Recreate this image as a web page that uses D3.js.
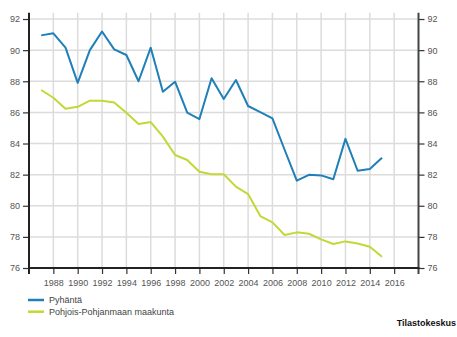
<!DOCTYPE html>
<html>
<head>
<meta charset="utf-8">
<script src="https://cdn.jsdelivr.net/npm/d3@7"></script>
<style>
  body { margin: 0; background: #fff; }
  svg text { font-family: "Liberation Sans", Arial, sans-serif; }
</style>
</head>
<body>
<div id="chart"></div>
<script>
// data
var years = [1987, 1988, 1989, 1990, 1991, 1992, 1993, 1994, 1995, 1996, 1997, 1998, 1999, 2000,
             2001, 2002, 2003, 2004, 2005, 2006, 2007, 2008, 2009, 2010, 2011, 2012, 2013, 2014, 2015]
var pyhanta = [90.95, 91.08, 90.16, 87.9, 90.0, 91.2, 90.05, 89.69, 88.0, 90.16, 87.33, 87.97, 85.98, 85.57,
               88.19, 86.86, 88.08, 86.41, 86.02, 85.62, 83.6, 81.61, 81.99, 81.95, 81.7, 84.3, 82.25, 82.36, 83.09]
var pohjois = [87.44, 86.94, 86.24, 86.36, 86.75, 86.75, 86.64, 85.98, 85.25, 85.38, 84.44, 83.26, 82.94, 82.19,
               82.02, 82.02, 81.23, 80.75, 79.34, 78.93, 78.12, 78.29, 78.2, 77.84, 77.54, 77.71, 77.58, 77.37, 76.72]
var seriesNames = ["Pyhäntä", "Pohjois-Pohjanmaan maakunta"]
var seriesColors = ["#1f7fb9", "#c3d836"]
var xTicks = d3.range(1988, 2017, 2)
var yTicks = [76, 78, 80, 82, 84, 86, 88, 90, 92]

var W = 457, H = 337
var mLeft = 29, mRight = 418.5, mTop = 12.8, mBottom = 268

var svg = d3.select("#chart").append("svg")
    .attr("width", W)
    .attr("height", H)

var x = d3.scaleLinear().domain([1986, 2018]).range([mLeft, mRight])
var y = d3.scaleLinear().domain([76, 92.4]).range([mBottom, mTop])

// grid
svg.append("g")
    .selectAll("line")
    .data(xTicks)
    .enter().append("line")
        .attr("x1", d => x(d)).attr("x2", d => x(d))
        .attr("y1", mTop).attr("y2", mBottom)
        .attr("stroke", "#dcdcdc")
        .attr("stroke-width", 1.5)

svg.append("g")
    .selectAll("line")
    .data(yTicks.slice(1))
    .enter().append("line")
        .attr("x1", mLeft).attr("x2", mRight)
        .attr("y1", d => y(d)).attr("y2", d => y(d))
        .attr("stroke", "#dcdcdc")
        .attr("stroke-width", 1.5)

// axes
function styleAxis(g){
    g.selectAll(".domain").remove()
    g.selectAll("line").attr("stroke", "#333").attr("stroke-width", 1.2)
    g.selectAll("text").attr("fill", "#555").style("font-size", "9px")
}

svg.append("g")
    .attr("transform", "translate(" + mLeft + ",0)")
    .call(d3.axisLeft(y).tickValues(yTicks).tickSize(6).tickPadding(3).tickFormat(d3.format("d")))
    .call(styleAxis)

svg.append("g")
    .attr("transform", "translate(" + mRight + ",0)")
    .call(d3.axisRight(y).tickValues(yTicks).tickSize(6).tickPadding(3).tickFormat(d3.format("d")))
    .call(styleAxis)

svg.append("g")
    .attr("transform", "translate(0," + mBottom + ")")
    .call(d3.axisBottom(x).tickValues(xTicks).tickSize(6).tickPadding(6).tickFormat(d3.format("d")))
    .call(styleAxis)

// axis lines
svg.append("line").attr("x1", mLeft).attr("x2", mLeft).attr("y1", mTop).attr("y2", mBottom + 6)
    .attr("stroke", "#222").attr("stroke-width", 2)
svg.append("line").attr("x1", mRight).attr("x2", mRight).attr("y1", mTop).attr("y2", mBottom + 6)
    .attr("stroke", "#444").attr("stroke-width", 2)
svg.append("line").attr("x1", mLeft - 1).attr("x2", mRight + 1).attr("y1", mBottom).attr("y2", mBottom)
    .attr("stroke", "#222").attr("stroke-width", 2)

// series (green first so blue sits on top)
var line = d3.line()
    .x((d, i) => x(years[i]))
    .y(d => y(d))

var allSeries = [pyhanta, pohjois]
for(var k = allSeries.length - 1; k >= 0; k--){
    svg.append("path")
        .datum(allSeries[k])
        .attr("fill", "none")
        .attr("stroke", seriesColors[k])
        .attr("stroke-width", 2)
        .attr("stroke-linejoin", "round")
        .attr("d", line)
}

// legend
seriesNames.forEach((name, i) => {
    var ly = 300 + i * 11.7
    svg.append("line")
        .attr("x1", 28).attr("x2", 44)
        .attr("y1", ly).attr("y2", ly)
        .attr("stroke", seriesColors[i])
        .attr("stroke-width", 2.5)
    svg.append("text")
        .attr("x", 49)
        .attr("y", ly + 3.2)
        .attr("fill", "#444")
        .style("font-size", "9px")
        .text(name)
})

svg.append("text")
    .attr("x", 456)
    .attr("y", 325.5)
    .attr("text-anchor", "end")
    .attr("fill", "#111")
    .style("font-size", "9px")
    .style("font-weight", "bold")
    .text("Tilastokeskus")
</script>
</body>
</html>
